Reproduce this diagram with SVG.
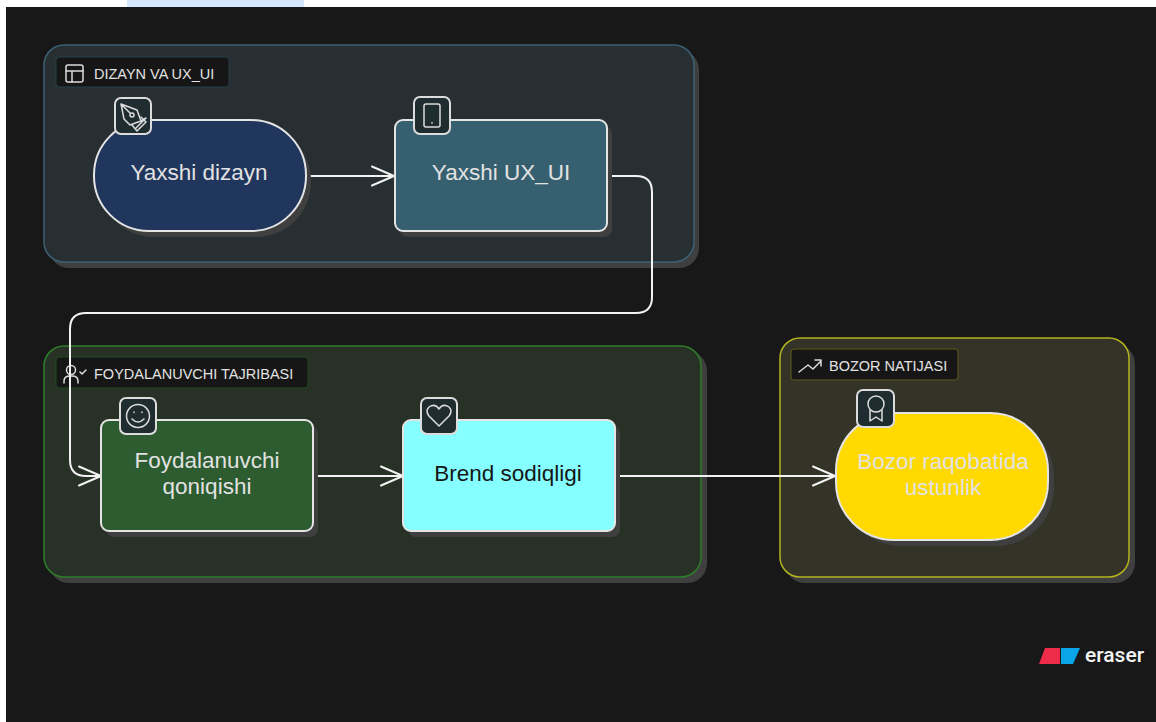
<svg xmlns="http://www.w3.org/2000/svg" width="1156" height="722" viewBox="0 0 1156 722">
<defs>
<marker id="arr" markerUnits="userSpaceOnUse" markerWidth="30" markerHeight="30" refX="24" refY="12" orient="auto" overflow="visible">
<path d="M2 2.500L24 12L2 21.500" fill="none" stroke="#f2f2f2" stroke-width="2" stroke-linecap="round" stroke-linejoin="round"/>
</marker>
</defs>
<style>
text{font-family:"Liberation Sans",Arial,sans-serif}
.shadow{fill:#3f3f3f}
.node{stroke:#e4e4e4;stroke-width:2}
.ntext{font-size:22.500px;text-anchor:middle;fill:#e2e2e2}
.gtext{font-size:14.500px;fill:#e2e2e2}
.badge{fill:#1f2d30;stroke:#dcdcdc;stroke-width:2}
.icon{fill:none;stroke:#dcdcdc;stroke-width:1.500;stroke-linecap:round;stroke-linejoin:round}
.conn{fill:none;stroke:#f2f2f2;stroke-width:2}
.tag{fill:#161616;stroke-width:1}
</style>
<rect x="0" y="0" width="1156" height="722" fill="#ffffff"/>
<rect x="127" y="0" width="177" height="7" fill="#d3e7fd"/>
<rect x="6" y="7" width="1150" height="715" fill="#181818"/>

<g id="group-dizayn">
<rect class="shadow" x="49" y="50" width="650" height="218" rx="20"/>
<rect x="44" y="45" width="650" height="217" rx="20" fill="#282f32" stroke="#3a6273" stroke-width="1.500"/>
<rect class="tag" x="56" y="57" width="173" height="30" rx="3" stroke="#24404b"/>
<g class="icon"><rect x="66" y="65" width="17" height="17" rx="2"/><path d="M66 71H83M72 71V82"/></g>
<text class="gtext" x="94" y="79">DIZAYN VA UX_UI</text>
</g>

<g id="group-foydalanuvchi">
<rect class="shadow" x="49" y="351" width="658" height="232" rx="20"/>
<rect x="44" y="346" width="657" height="231" rx="20" fill="#273126" stroke="#2e7d2a" stroke-width="1.500"/>
<rect class="tag" x="56" y="357" width="252" height="31" rx="3" stroke="#1f4a1f"/>
<g class="icon"><circle cx="71" cy="370" r="4.500"/><path d="M64 383V381Q64 376 70 376H72Q78 376 78 381V383M80 372L82 374L86 370"/></g>
<text class="gtext" x="94" y="379">FOYDALANUVCHI TAJRIBASI</text>
</g>

<g id="group-bozor">
<rect class="shadow" x="785" y="344" width="350" height="239" rx="20"/>
<rect x="780" y="338" width="349" height="239" rx="20" fill="#333327" stroke="#b4b41e" stroke-width="1.500"/>
<rect class="tag" x="791" y="349" width="167" height="31" rx="3" stroke="#5c5c18"/>
<g class="icon"><path d="M799 372L808 365L813 369L821 361M815 360H821V366"/></g>
<text class="gtext" x="829" y="371">BOZOR NATIJASI</text>
</g>

<g id="connectors">
<path class="conn" d="M306 176H394" marker-end="url(#arr)"/>
<path class="conn" d="M607 176H636Q652 176 652 192V297Q652 313 636 313H86Q70 313 70 329V460Q70 476 86 476H101" marker-end="url(#arr)"/>
<path class="conn" d="M313 476H403" marker-end="url(#arr)"/>
<path class="conn" d="M615 476H835" marker-end="url(#arr)"/>
</g>

<g id="node-yaxshi-dizayn">
<rect class="shadow" x="99" y="126" width="212" height="111" rx="55"/>
<rect class="node" x="94" y="120" width="212" height="111" rx="55" fill="#20365c"/>
<text class="ntext" x="199" y="180">Yaxshi dizayn</text>
<rect class="badge" x="115" y="98" width="36" height="36" rx="6"/>
<g class="icon"><path d="M121 104L137 110L141 121L130 125L124 119ZM121 104L130 113M136 128L146 118L141 121"/><circle cx="132" cy="115" r="2"/><path d="M132 125L137 131L146 122L141 117"/></g>
</g>

<g id="node-yaxshi-ux">
<rect class="shadow" x="400" y="126" width="212" height="111" rx="8"/>
<rect class="node" x="395" y="120" width="212" height="111" rx="8" fill="#36606f"/>
<text class="ntext" x="501" y="180">Yaxshi UX_UI</text>
<rect class="badge" x="414" y="97" width="36" height="37" rx="6"/>
<g class="icon"><rect x="424" y="104" width="16" height="23" rx="2"/><path d="M432 122.500V123"/></g>
</g>

<g id="node-foydalanuvchi">
<rect class="shadow" x="106" y="426" width="212" height="111" rx="8"/>
<rect class="node" x="101" y="420" width="212" height="111" rx="8" fill="#2c5c30"/>
<text class="ntext" x="207" y="468">Foydalanuvchi</text>
<text class="ntext" x="207" y="494">qoniqishi</text>
<rect class="badge" x="120" y="398" width="36" height="36" rx="6"/>
<g class="icon"><circle cx="138" cy="416" r="11.500"/><path d="M132 419Q138 425 144 419M134 412V412.500M142 412V412.500"/></g>
</g>

<g id="node-brend">
<rect class="shadow" x="408" y="426" width="212" height="111" rx="8"/>
<rect class="node" x="403" y="420" width="212" height="111" rx="8" fill="#85ffff"/>
<text class="ntext" x="508" y="481" style="fill:#161616">Brend sodiqligi</text>
<rect class="badge" x="421" y="398" width="36" height="36" rx="6"/>
<g class="icon"><path d="M439 426L429 416Q425 411 429 407Q435 403 439 409Q443 403 449 407Q453 411 449 416Z"/></g>
</g>

<g id="node-bozor">
<rect class="shadow" x="842" y="419" width="212" height="127" rx="58"/>
<rect class="node" x="836" y="413" width="212" height="127" rx="58" fill="#ffd900"/>
<text class="ntext" x="943" y="469">Bozor raqobatida</text>
<text class="ntext" x="943" y="495">ustunlik</text>
<rect class="badge" x="857" y="390" width="37" height="37" rx="6"/>
<g class="icon"><circle cx="876" cy="404" r="8"/><path d="M870 410V421L876 417L882 421V410"/></g>
</g>

<g id="eraser-logo">
<path d="M1045 648H1060V664H1039Z" fill="#ef2b4a"/>
<path d="M1061 648H1080L1073 664H1061Z" fill="#0aa5e8"/>
<text x="1085" y="662" style="font-family:Roboto,sans-serif;font-size:21px;font-weight:500;fill:#f4f4f4">eraser</text>
</g>
</svg>
